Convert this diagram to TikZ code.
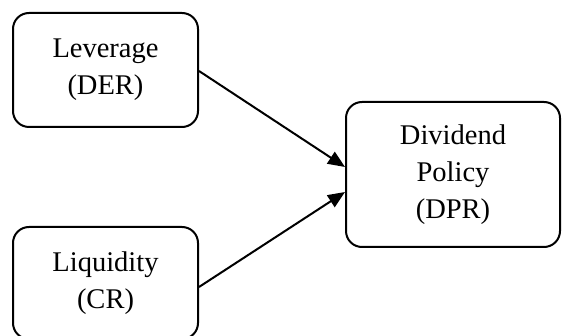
\documentclass[tikz,border=0pt]{standalone}
\usepackage{fontspec}
\setmainfont{Liberation Serif}
\usetikzlibrary{arrows.meta}
\tikzset{
  box/.style={draw, line width=2pt, rounded corners=16pt, align=center,
    font=\fontsize{28.5}{37}\selectfont, inner sep=0pt},
  conn/.style={line width=2pt, -{Triangle[length=17pt,width=14pt]}}
}
\begin{document}
\begin{tikzpicture}[x=1pt,y=-1pt]
\useasboundingbox (0,0) rectangle (562,336);
\node[box, minimum width=185pt, minimum height=114pt] (lev) at (105.5,70) {Leverage\\(DER)};
\node[box, minimum width=185pt, minimum height=112pt] (liq) at (105.5,283) {Liquidity\\(CR)};
\node[box, minimum width=214pt, minimum height=145pt] (div) at (453,174.5) {Dividend\\Policy\\(DPR)};
\draw[conn] ([yshift=-1pt]lev.east) -- ([yshift=7.5pt]div.west);
\draw[conn] ([yshift=-4pt]liq.east) -- ([yshift=-17.5pt]div.west);
\end{tikzpicture}
\end{document}
